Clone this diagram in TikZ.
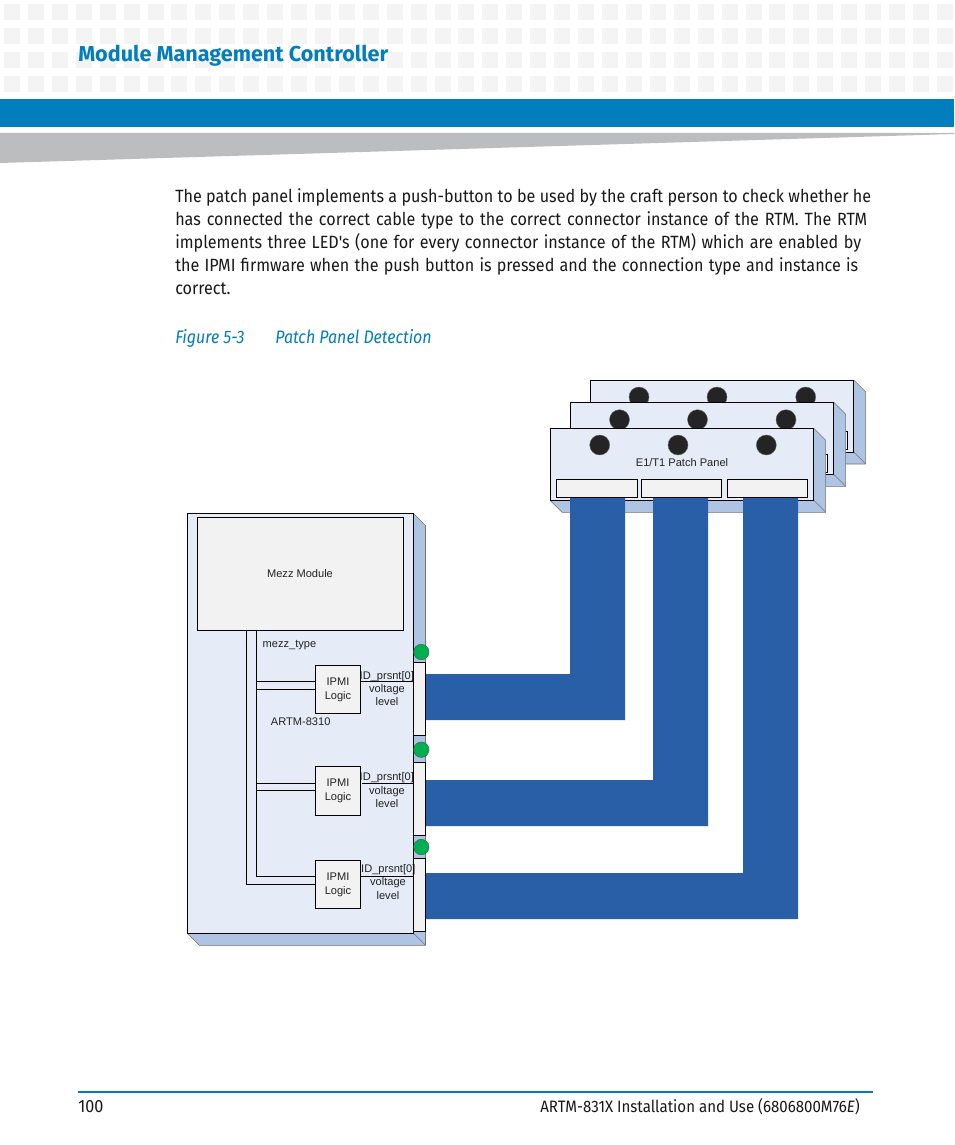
\documentclass[tikz,border=0pt]{standalone}
\usepackage{fontspec}
\setmainfont{Fira Sans}
\newfontfamily\arialf{Liberation Sans}
\newfontfamily\bodyf[FakeStretch=0.911]{Fira Sans}
\newfontfamily\capf[FakeStretch=0.885]{Fira Sans}
\usetikzlibrary{calc}
\definecolor{brandblue}{HTML}{027DBD}
\definecolor{tilegray}{HTML}{F4F4F4}
\definecolor{wedgegray}{HTML}{BCBDBF}
\definecolor{faceblue}{HTML}{E6ECF7}
\definecolor{sideblue}{HTML}{AFC4E2}
\definecolor{bandblue}{HTML}{285FA6}
\definecolor{boxgray}{HTML}{F2F2F2}
\definecolor{ledgreen}{HTML}{00B050}
\definecolor{knob}{HTML}{242424}
\definecolor{inkgray}{HTML}{222222}
\tikzset{
  x=0.75pt,y=-0.75pt,
  wire/.style={draw=black,line width=0.75pt},
  rectbox/.style={draw=black,line width=0.75pt,inner sep=0pt,outer sep=0pt,fill=boxgray},
  face/.style={rectbox,fill=faceblue},
  side/.style={fill=sideblue,draw=black!55,line width=0.4pt,line join=round},
  band/.style={fill=bandblue,draw=none},
  knobdot/.style={circle,fill=knob,draw=black!60,line width=0.3pt,minimum size=15pt,inner sep=0pt},
  led/.style={circle,fill=ledgreen,draw=black!70,line width=0.3pt,minimum size=11.6pt,inner sep=0pt},
  small/.style={inner sep=0pt,text=inkgray,font=\arialf\fontsize{8.3}{10}\selectfont,text height=6pt,text depth=0pt,yshift=-0.4pt},
  bodyline/.style={anchor=base west,inner sep=0pt,font=\bodyf\fontsize{13.3}{17}\selectfont,text=black!90},
  capline/.style={anchor=base west,inner sep=0pt,text=brandblue,font=\capf\itshape\fontsize{13.55}{17}\selectfont},
}
% name, x1, y1, x2, y2, style, text
\newcommand{\rectnode}[7]{%
  \pgfmathsetmacro{\rw}{(#4-(#2))*0.75}%
  \pgfmathsetmacro{\rh}{(#5-(#3))*0.75}%
  \node[#6,minimum width=\rw pt,minimum height=\rh pt] (#1) at ({(#2+#4)/2},{(#3+#5)/2}) {#7};%
}
% 3D panel: name, x1, y1, x2, y2, text
\newcommand{\slab}[6]{%
  \fill[side] (#2,#5) -- ({#2+12},{#5+12}) -- ({#4+12},{#5+12}) -- ({#4+12},{#3+12}) -- (#4,#3) -- (#4,#5) -- cycle;%
  \draw[side,fill=none] (#4,#5) -- ({#4+12},{#5+12});%
  \rectnode{#1}{#2}{#3}{#4}{#5}{face}{#6}%
}
\begin{document}
\begin{tikzpicture}
\useasboundingbox (0,0) rectangle (954,1145);
\fill[white] (0,0) rectangle (954,1145);
% header tiles
\foreach \c in {0,...,39}{
  \foreach \r in {0,...,3}{
    \fill[tilegray] ({4+\c*23.92},{4+\r*24}) rectangle ++(16,16);
  }
}
\fill[brandblue] (0,99) rectangle (954,127);
\fill[wedgegray] (0,133) -- (954,133) -- (954,134) -- (0,163) -- cycle;
\node[anchor=base west,inner sep=0pt,text=brandblue,font=\bfseries\fontsize{16.2}{20}\selectfont] (title) at (78,61.5) {Module Management Controller};
% paragraph
\node[bodyline] (l1) at (175,202) {\makebox[522pt][s]{The patch panel implements a push-button to be used by the craft person to check whether he}};
\node[bodyline] (l2) at (175,225) {\makebox[519pt][s]{has connected the correct cable type to the correct connector instance of the RTM. The RTM}};
\node[bodyline] (l3) at (175,248) {\makebox[514.5pt][s]{implements three LED's (one for every connector instance of the RTM) which are enabled by}};
\node[bodyline] (l4) at (175,271) {\makebox[512.2pt][s]{the IPMI firmware when the push button is pressed and the connection type and instance is}};
\node[bodyline] (l5) at (175,294) {correct.};
\node[capline] (cap1) at (175,343) {Figure 5-3};
\node[capline] (cap2) at (275,343) {Patch Panel Detection};
% back panel
\slab{panelC}{590}{380}{853.7}{452}{}
\foreach \n/\x in {a/639,b/717,c/805.7}{\node[knobdot] (kc\n) at (\x,397) {};}
\rectnode{pc3}{767.3}{431}{847.7}{449.3}{rectbox}{}
% middle panel
\slab{panelB}{570}{402.3}{833.7}{474.3}{}
\foreach \n/\x in {a/619.5,b/697.5,c/786}{\node[knobdot] (kb\n) at (\x,419.7) {};}
\rectnode{pb3}{747.3}{454.3}{827.7}{472.3}{rectbox}{}
% front panel
\slab{panelA}{550}{428.3}{813.7}{500.3}{}
\foreach \n/\x in {a/599.7,b/678,c/766.3}{\node[knobdot] (ka\n) at (\x,445) {};}
\node[small] (ptitle) at (682,462) {E1/T1 Patch Panel};
% main board
\slab{board}{187.3}{513.5}{413.5}{933.3}{}
\rectnode{mezz}{197.3}{517.3}{403.7}{630.3}{rectbox}{}
\node[small] (mezzlabel) at (300,573) {Mezz Module};
% cable bands
\fill[band] (570,497) -- (570,674) -- (426,674) -- (426,720) -- (625,720) -- (625,497) -- cycle;
\fill[band] (653,497) -- (653,780) -- (426,780) -- (426,826) -- (708,826) -- (708,497) -- cycle;
\fill[band] (743,497) -- (743,873) -- (426,873) -- (426,919) -- (798,919) -- (798,497) -- cycle;
% patch panel connectors
\rectnode{pa1}{556.3}{479.3}{637.7}{497.3}{rectbox}{}
\rectnode{pa2}{641.3}{479.3}{721.7}{497.3}{rectbox}{}
\rectnode{pa3}{727.3}{479.3}{807.7}{497.3}{rectbox}{}
% IPMI blocks
\rectnode{ipmi1}{315.3}{665.3}{360.5}{713.3}{rectbox}{}
\rectnode{ipmi2}{315.3}{766.3}{360.5}{815.3}{rectbox}{}
\rectnode{ipmi3}{315.3}{860.3}{360.5}{908.3}{rectbox}{}
% board connectors
\rectnode{conn1}{413.6}{662.3}{425.4}{735.7}{rectbox}{}
\rectnode{conn2}{413.6}{762.3}{425.4}{835.3}{rectbox}{}
\rectnode{conn3}{413.6}{858.3}{425.4}{931.3}{rectbox}{}
% LEDs
\node[led] (led1) at (421.3,652) {};
\node[led] (led2) at (421.3,749.7) {};
\node[led] (led3) at (421.3,847) {};
% bus wires
\coordinate (busO) at (246.6,630.3);
\coordinate (busI) at (256.6,630.3);
\coordinate (y3a) at (256.6,876.3);
\coordinate (y3b) at (246.6,884.3);
\coordinate (y1a) at (256.6,681.7);
\coordinate (y1b) at (256.6,689);
\coordinate (y2a) at (256.6,783.7);
\coordinate (y2b) at (256.6,790.3);
\draw[wire] (busO) -- (y3b) -- (y3b -| ipmi3.west);
\draw[wire] (busI) -- (y3a) -- (y3a -| ipmi3.west);
\draw[wire] (y1a) -- (y1a -| ipmi1.west);
\draw[wire] (y1b) -- (y1b -| ipmi1.west);
\draw[wire] (y2a) -- (y2a -| ipmi2.west);
\draw[wire] (y2b) -- (y2b -| ipmi2.west);
\coordinate (s1) at (360.5,681);
\coordinate (s2) at (362,783);
\coordinate (s3) at (360.5,876.3);
\draw[wire] (s1) -- (s1 -| conn1.west);
\draw[wire] (s2) -- (s2 -| conn2.west);
\draw[wire] (s3) -- (s3 -| conn3.west);
% labels
\node[small,anchor=center] (mt) at (289.5,643.2) {mezz\_type};
\node[small] (art) at (300.7,721) {ARTM-8310};
\foreach \n/\y in {1/681,2/782,3/876}{
  \node[small] (ip\n a) at (338,\y) {IPMI};
  \node[small] (ip\n b) at (338,{\y+14}) {Logic};
}
\node[small] (id1) at (386.8,675) {ID\_prsnt[0]};
\node[small] (id2) at (386.8,776) {ID\_prsnt[0]};
\node[small] (id3) at (388.3,868) {ID\_prsnt[0]};
\node[small] (v1) at (387,688) {voltage};
\node[small] (lv1) at (387,701) {level};
\node[small] (v2) at (387,790) {voltage};
\node[small] (lv2) at (387,803) {level};
\node[small] (v3) at (388,881) {voltage};
\node[small] (lv3) at (388,895) {level};
% footer
\fill[brandblue] (78,1091.3) rectangle (873,1092.8);
\node[bodyline] (pg) at (78,1112.5) {100};
\node[bodyline,anchor=base east,font=\bodyf\fontsize{12.4}{14}\selectfont] (ft) at (860,1112.5) {ARTM-831X Installation and Use (6806800M76\textit{E})};
\end{tikzpicture}
\end{document}
